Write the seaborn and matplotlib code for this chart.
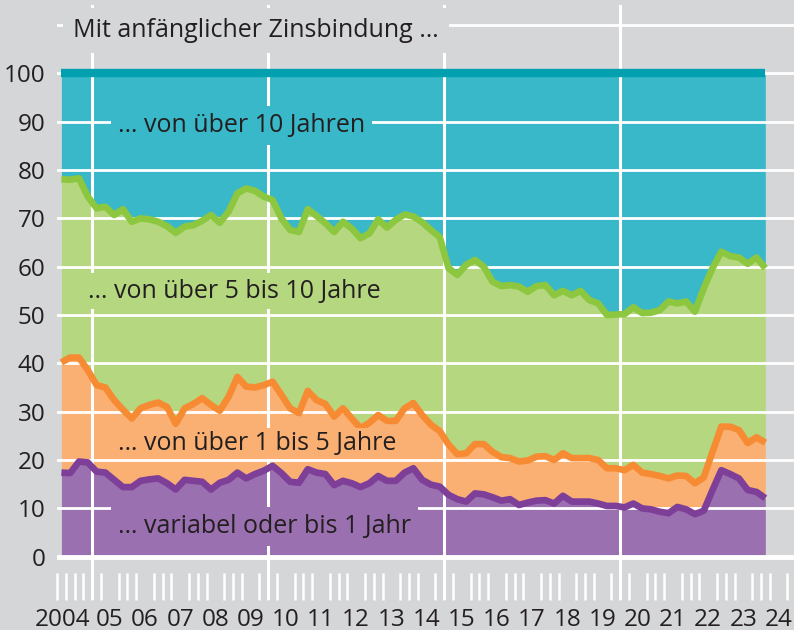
import numpy as np
import pandas as pd
import matplotlib
matplotlib.use('Agg')
import matplotlib.pyplot as plt
import seaborn as sns

# ------------------------------------------------------------
# Data: share of new housing loans by initial rate fixation (%)
# quarterly, 2004 Q1 - 2024 Q1
# ------------------------------------------------------------
quarters = pd.period_range('2004Q1', '2024Q1', freq='Q')

variabel = [17.4, 17.3, 19.7, 19.5, 17.6, 17.4, 15.9, 14.4, 14.4, 15.7,
            16.0, 16.2, 15.2, 13.9, 15.9, 15.7, 15.5, 13.9, 15.3, 15.9,
            17.4, 16.2, 17.1, 17.8, 18.8, 17.3, 15.5, 15.3, 18.1, 17.4,
            17.1, 14.8, 15.7, 15.2, 14.4, 15.2, 16.7, 15.7, 15.7, 17.4,
            18.3, 15.9, 14.9, 14.5, 12.8, 11.9, 11.4, 13.1, 12.9, 12.3,
            11.6, 11.9, 10.7, 11.2, 11.6, 11.7, 11.0, 12.6, 11.4, 11.4,
            11.4, 11.0, 10.5, 10.5, 10.2, 11.0, 10.0, 9.8, 9.3, 9.0,
            10.3, 9.8, 8.8, 9.5, 13.8, 17.9, 17.1, 16.2, 13.8, 13.4,
            12.1]

jahre_1_5 = [22.8, 23.9, 21.5, 19.1, 17.9, 17.6, 16.5, 16.0, 14.2, 15.0,
             15.4, 15.7, 15.8, 13.6, 14.8, 15.9, 17.3, 17.5, 14.9, 17.2,
             19.8, 19.0, 17.9, 17.7, 17.4, 16.2, 15.2, 14.4, 16.2, 15.0,
             14.5, 14.2, 15.0, 13.4, 12.2, 12.5, 12.6, 12.4, 12.4, 13.3,
             13.5, 13.4, 12.4, 11.5, 10.4, 9.3, 10.0, 10.2, 10.4, 9.4,
             9.0, 8.5, 9.0, 8.7, 9.1, 9.1, 9.0, 8.8, 9.0, 9.0,
             9.0, 9.0, 7.8, 7.8, 7.7, 8.0, 7.4, 7.3, 7.4, 7.2,
             6.5, 6.9, 6.4, 6.9, 7.9, 9.0, 9.8, 10.0, 9.7, 11.3,
             11.5]

jahre_5_10 = [37.9, 36.8, 37.1, 35.9, 36.6, 37.4, 38.3, 41.5, 40.7, 39.3,
              38.4, 37.4, 37.4, 39.5, 37.6, 37.0, 36.7, 39.3, 38.9, 38.3,
              38.0, 41.0, 40.7, 39.0, 37.6, 36.5, 36.9, 37.5, 37.6, 38.1,
              37.4, 38.2, 38.6, 39.3, 39.3, 39.2, 40.5, 40.0, 41.6, 40.1,
              38.6, 39.9, 40.3, 40.1, 36.5, 37.1, 39.0, 38.1, 36.7, 35.2,
              35.4, 35.8, 36.2, 34.9, 35.3, 35.4, 34.1, 33.6, 33.7, 34.6,
              32.7, 32.4, 31.7, 31.8, 32.3, 32.6, 33.0, 33.4, 34.3, 36.6,
              35.6, 36.1, 35.5, 39.1, 38.0, 36.2, 35.3, 35.7, 37.1, 37.2,
              36.1]

ueber_10 = [21.9, 22.0, 21.7, 25.5, 27.9, 27.6, 29.3, 28.1, 30.7, 30.0,
            30.2, 30.7, 31.6, 33.0, 31.7, 31.4, 30.5, 29.3, 30.9, 28.6,
            24.8, 23.8, 24.3, 25.5, 26.2, 30.0, 32.4, 32.8, 28.1, 29.5,
            31.0, 32.8, 30.7, 32.1, 34.1, 33.1, 30.2, 31.9, 30.3, 29.2,
            29.6, 30.8, 32.4, 33.9, 40.3, 41.7, 39.6, 38.6, 40.0, 43.1,
            44.0, 43.8, 44.1, 45.2, 44.0, 43.8, 45.9, 45.0, 45.9, 45.0,
            46.9, 47.6, 50.0, 49.9, 49.8, 48.4, 49.6, 49.5, 49.0, 47.2,
            47.6, 47.2, 49.3, 44.5, 40.3, 36.9, 37.8, 38.1, 39.4, 38.1,
            40.3]

series_names = ['variabel', '1-5', '5-10', '>10']
year_labels = ['2004'] + [f'{y % 100:02d}' for y in range(2005, 2025)]
y_tick_labels = [str(v) for v in range(0, 101, 10)] + ['']

labels_text = ['\u2026 variabel oder bis 1 Jahr',
               '\u2026 von über 1 bis 5 Jahre',
               '\u2026 von über 5 bis 10 Jahre',
               '\u2026 von über 10 Jahren']
title_text = 'Mit anfänglicher Zinsbindung \u2026'

# colours
BG = '#D5D6D8'
TXT = '#231F20'
FILL = ['#9A70B0', '#FAB073', '#B5D77F', '#38B8C8']
LINE = ['#7E3F98', '#F68B33', '#8DC63F', '#00A0B0']

# ------------------------------------------------------------
x = quarters.year + (quarters.quarter - 0.5) / 4
shares = np.array([variabel, jahre_1_5, jahre_5_10, ueber_10])
cum = np.cumsum(shares, axis=0)

df = pd.DataFrame({'x': np.tile(x, 4),
                   'value': cum.ravel(),
                   'series': np.repeat(series_names, len(x))})

sns.set_theme(style='white', rc={'axes.facecolor': BG, 'figure.facecolor': BG})
plt.rcParams['font.family'] = ['Open Sans', 'DejaVu Sans']

fig = plt.figure(figsize=(7.94, 6.30), dpi=100)
ax = fig.add_axes([57 / 794, 30 / 630, 737 / 794, 595 / 630])

ax.stackplot(x, shares, colors=FILL, linewidth=0, zorder=1)

# white grid
ax.set_yticks(range(0, 111, 10))
ax.set_yticklabels(y_tick_labels)
ax.grid(axis='y', color='white', linewidth=2.0, zorder=2)
ax.axhline(0, color='white', linewidth=3.5, zorder=2)
for gx in [2005, 2010, 2015, 2020]:
    ax.axvline(gx, color='white', linewidth=2.2, zorder=2)
ax.set_axisbelow(False)

# boundary lines
for i, name in enumerate(series_names):
    sub = df[df['series'] == name]
    sns.lineplot(data=sub, x='x', y='value', ax=ax, color=LINE[i],
                 linewidth=6.0 if i == 3 else 4.8, zorder=3, sort=False,
                 solid_capstyle='butt', solid_joinstyle='round', legend=False)

# axes styling
ax.set_xlim(2004.0, 2024.94)
ax.set_ylim(-8.96, 114.15)
for s in ax.spines.values():
    s.set_visible(False)

major_pos = [y + 0.5 for y in range(2004, 2025)]
major_pos[0] = 2004.16
ax.set_xticks(major_pos)
ax.set_xticklabels(year_labels)
ax.set_xticks(np.arange(2004, 2024.8, 0.25), minor=True)
ax.tick_params(axis='x', which='major', length=0, pad=5.5, labelsize=17.5,
               labelcolor=TXT)
ax.tick_params(axis='x', which='minor', direction='in', length=19.4,
               width=1.8, color='white', bottom=True)
ax.tick_params(axis='y', length=0, pad=8.5, labelsize=17.5, labelcolor=TXT)
ax.set_xlabel('')
ax.set_ylabel('')

# in-chart labels
text_kw = dict(fontsize=18, color=TXT, va='baseline', ha='left', zorder=5)
ax.text(2004.455, 107.5, title_text,
        bbox=dict(fc=BG, ec='none', pad=7), **text_kw)
ax.text(2005.73, 4.8, labels_text[0],
        bbox=dict(fc=FILL[0], ec='none', pad=5), **text_kw)
ax.text(2005.73, 22.1, labels_text[1],
        bbox=dict(fc=FILL[1], ec='none', pad=2), **text_kw)
ax.text(2004.88, 53.6, labels_text[2],
        bbox=dict(fc=FILL[2], ec='none', pad=4), **text_kw)
ax.text(2005.73, 87.9, labels_text[3],
        bbox=dict(fc=FILL[3], ec='none', pad=5), **text_kw)

fig.savefig('out.png', dpi=100, facecolor=BG)
